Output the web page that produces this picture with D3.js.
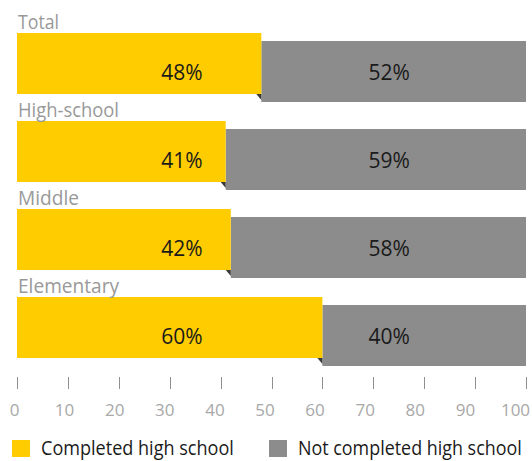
<!DOCTYPE html>
<html>
<head>
<meta charset="utf-8">
<script src="https://cdn.jsdelivr.net/npm/d3@7"></script>
<style>
  html, body { margin: 0; padding: 0; background: #fff; }
  svg { display: block; }
  text { font-family: "Open Sans", "Noto Sans", sans-serif; }
</style>
</head>
<body>
<svg id="chart" width="532" height="461"></svg>
<script>
const categories = ["Total", "High-school", "Middle", "Elementary"];
const completed = [48, 41, 42, 60];
const notCompleted = [52, 59, 58, 40];
const seriesNames = ["Completed high school", "Not completed high school"];
const tickValues = [0, 10, 20, 30, 40, 50, 60, 70, 80, 90, 100];

const colors = { completed: "#ffcc00", notCompleted: "#8c8c8c" };

const svg = d3.select("#chart");

const x = d3.scaleLinear().domain([0, 100]).range([17, 526]);
const xLabel = d3.scaleLinear().domain([0, 100]).range([14.5, 515.5]);
const y = d3.scaleBand().domain(categories).range([33, 358])
  .paddingInner(27 / 88).paddingOuter(0).align(0);
const drop = 8;

const rows = categories.map((c, i) => ({ cat: c, a: completed[i], b: notCompleted[i] }));

const g = svg.append("g");

// grey (not completed) bars, dropped slightly
g.selectAll("rect.nc").data(rows).join("rect")
  .attr("class", "nc")
  .attr("x", d => x(d.a))
  .attr("y", d => y(d.cat) + drop)
  .attr("width", d => x(d.a + d.b) - x(d.a))
  .attr("height", y.bandwidth())
  .attr("fill", colors.notCompleted);

// yellow bars
g.selectAll("rect.c").data(rows).join("rect")
  .attr("class", "c")
  .attr("x", x(0))
  .attr("y", d => y(d.cat))
  .attr("width", d => x(d.a) - x(0))
  .attr("height", y.bandwidth())
  .attr("fill", colors.completed);

// fold shadow
g.selectAll("path.fold").data(rows).join("path")
  .attr("class", "fold")
  .attr("d", d => {
    const xe = x(d.a), yb = y(d.cat) + y.bandwidth();
    return `M${xe - 5},${yb}L${xe},${yb}L${xe},${yb + 6}Z`;
  })
  .attr("fill", "#3a3a3a");

// category labels
const catWidths = { "Total": 41, "High-school": 101, "Middle": 61, "Elementary": 101 };
g.selectAll("text.cat").data(rows).join("text")
  .attr("class", "cat")
  .attr("x", x(0) + 1)
  .attr("y", d => y(d.cat) - 4.5)
  .attr("font-size", 20)
  .attr("fill", "#999999")
  .attr("textLength", d => catWidths[d.cat])
  .attr("lengthAdjust", "spacingAndGlyphs")
  .text(d => d.cat);

// value labels
const labelPosA = 32.4, labelPosB = 73.1;
g.selectAll("text.va").data(rows).join("text")
  .attr("class", "va")
  .attr("x", x(labelPosA))
  .attr("y", d => y(d.cat) + 46.5)
  .attr("text-anchor", "middle")
  .attr("font-size", 21)
  .attr("fill", "#1a1a1a")
  .text(d => d.a + "%");
g.selectAll("text.vb").data(rows).join("text")
  .attr("class", "vb")
  .attr("x", x(labelPosB))
  .attr("y", d => y(d.cat) + 46.5)
  .attr("text-anchor", "middle")
  .attr("font-size", 21)
  .attr("fill", "#1a1a1a")
  .text(d => d.b + "%");

// axis
const axis = svg.append("g");
axis.selectAll("line").data(tickValues).join("line")
  .attr("x1", d => Math.round(x(d)) + 0.5).attr("x2", d => Math.round(x(d)) + 0.5)
  .attr("y1", 377).attr("y2", 389)
  .attr("stroke", "#8f8f8f").attr("stroke-width", 1);
axis.selectAll("text").data(tickValues).join("text")
  .attr("x", d => xLabel(d))
  .attr("y", 415.5)
  .attr("text-anchor", "middle")
  .attr("font-size", 17)
  .attr("fill", "#a8a8a8")
  .text(d => d);

// legend
const legend = svg.append("g");
const legendX = [12, 269];
const legendTextWidths = [193, 224];
const legendColors = [colors.completed, colors.notCompleted];
legend.selectAll("rect").data(seriesNames).join("rect")
  .attr("x", (d, i) => legendX[i]).attr("y", 440)
  .attr("width", 18).attr("height", 17)
  .attr("fill", (d, i) => legendColors[i]);
legend.selectAll("text").data(seriesNames).join("text")
  .attr("x", 0)
  .attr("y", 0)
  .attr("font-size", 20)
  .attr("fill", "#1a1a1a")
  .text(d => d)
  .each(function (d, i) {
    const w = this.getComputedTextLength() || legendTextWidths[i];
    const s = legendTextWidths[i] / w;
    d3.select(this).attr("transform",
      `translate(${legendX[i] + 29},455) scale(${s},1)`);
  });
</script>
</body>
</html>
